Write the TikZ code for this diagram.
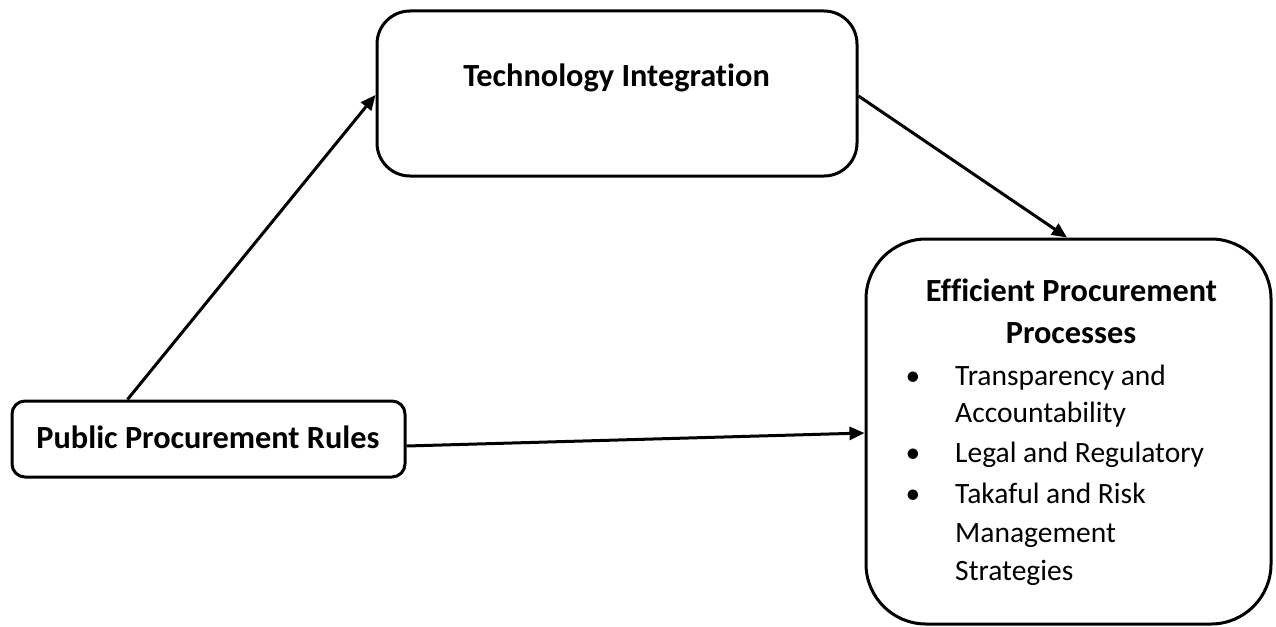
\documentclass[tikz,border=0pt]{standalone}
\usepackage{fontspec}
\setmainfont[Ligatures=NoCommon]{Carlito}
\usetikzlibrary{arrows.meta,calc}
\begin{document}
\begin{tikzpicture}[x=1pt,y=-1pt,
  box/.style={draw=black,line width=3pt,fill=white,inner sep=0pt},
  ttl/.style={font=\fontsize{32.3}{38}\selectfont\bfseries,inner sep=0pt},
  itm/.style={font=\fontsize{29.5}{39}\selectfont,inner sep=0pt,anchor=base west},
  bul/.style={font=\fontsize{29.5}{39}\selectfont,inner sep=0pt,anchor=base},
  conn/.style={line width=3pt,-{Triangle[length=15pt,width=13pt]}}]
\useasboundingbox (0,0) rectangle (1276,626);
% boxes
\node[box,rounded corners=33pt,minimum width=480pt,minimum height=165pt] (tech) at (617,93.5) {};
\node[box,rounded corners=60pt,minimum width=405pt,minimum height=385pt] (epp) at (1068.5,431.5) {};
\node[box,rounded corners=13pt,minimum width=393pt,minimum height=76pt] (ppr) at (208.5,439) {};
% texts
\node[ttl,anchor=base] (techt) at (616.5,86) {Technology Integration};
\node[ttl,anchor=base] (pprt) at (208,448) {Public Procurement Rules};
\node[ttl,anchor=base] (eppt1) at (1071.5,301) {Efficient Procurement};
\node[ttl,anchor=base] (eppt2) at (1071,343) {Processes};
\node[bul] (b1) at (913,385) {•};
\node[bul] (b2) at (913,462) {•};
\node[bul] (b3) at (913,503) {•};
\node[itm] (l1) at (955,385) {Transparency and};
\node[itm] (l2) at (955,422) {Accountability};
\node[itm] (l3) at (955,462) {Legal and Regulatory};
\node[itm] (l4) at (955,503) {Takaful and Risk};
\node[itm] (l5) at (955,542) {Management};
\node[itm] (l6) at (955,580) {Strategies};
% connectors
\draw[conn] ($(ppr.north west)+(117,0)$) -- ($(tech.west)+(0,1.5)$);
\draw[conn] ($(tech.east)+(0,2.5)$) -- ($(epp.north)+(-1.5,0)$);
\draw[conn] ($(ppr.east)+(0,7)$) -- ($(epp.west)+(0,1.5)$);
\end{tikzpicture}
\end{document}
